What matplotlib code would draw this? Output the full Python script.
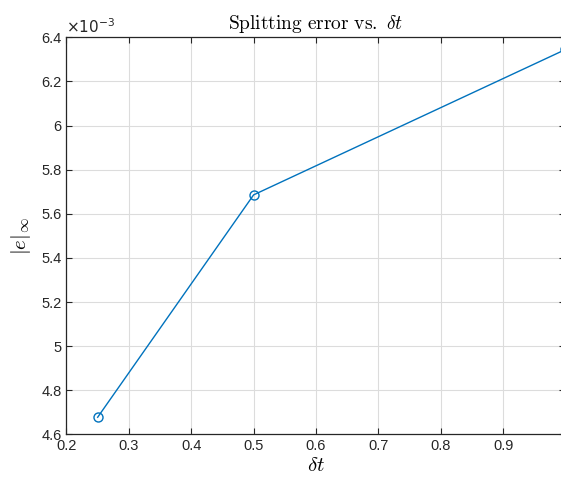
import matplotlib.pyplot as plt
from matplotlib.ticker import FuncFormatter, MultipleLocator

# step sizes and splitting error
dt = [0.25, 0.5, 1.0]
err = [4.678e-3, 5.686e-3, 6.345e-3]

plt.rcParams['mathtext.fontset'] = 'cm'
plt.rcParams['font.family'] = ['Liberation Sans', 'DejaVu Sans']

fig = plt.figure(figsize=(5.61, 4.79), dpi=100)
ax = fig.add_axes([0.1185, 0.093, 0.8895, 0.829])

ax.plot(dt, err, color='#0072BD', lw=1.0, marker='o', ms=6.5,
        mfc='none', mew=1.0, clip_on=True)

ax.set_xlim(0.2, 1.0)
ax.set_ylim(4.6e-3, 6.4e-3)
ax.xaxis.set_major_locator(MultipleLocator(0.1))
ax.yaxis.set_major_locator(MultipleLocator(0.2e-3))
# the 1.0 label sits past the right edge of the image, so leave it blank
ax.xaxis.set_major_formatter(FuncFormatter(lambda v, p: '' if v > 0.95 else '%g' % round(v, 2)))
ax.yaxis.set_major_formatter(FuncFormatter(lambda v, p: '%g' % round(v * 1e3, 2)))

ax.grid(True, color='#dcdcdc', lw=0.8)
ax.set_axisbelow(True)
ax.tick_params(direction='in', top=True, right=True, length=4,
               labelsize=10.5, colors='#262626', width=0.8)
for s in ax.spines.values():
    s.set_color('#262626')
    s.set_linewidth(0.9)

ax.text(0.0, 1.003, r'$\times10^{-3}$', transform=ax.transAxes,
        fontsize=11, color='#262626', ha='left', va='bottom',
        math_fontfamily='dejavusans')

ax.set_title(r'$\mathrm{Splitting\ error\ vs.}\ \delta t$', fontsize=14, pad=6)
ax.set_xlabel(r'$\delta t$', fontsize=15, labelpad=2)
ax.set_ylabel(r'$|e|_\infty$', fontsize=15, labelpad=6)

fig.savefig('out.png', dpi=100)
